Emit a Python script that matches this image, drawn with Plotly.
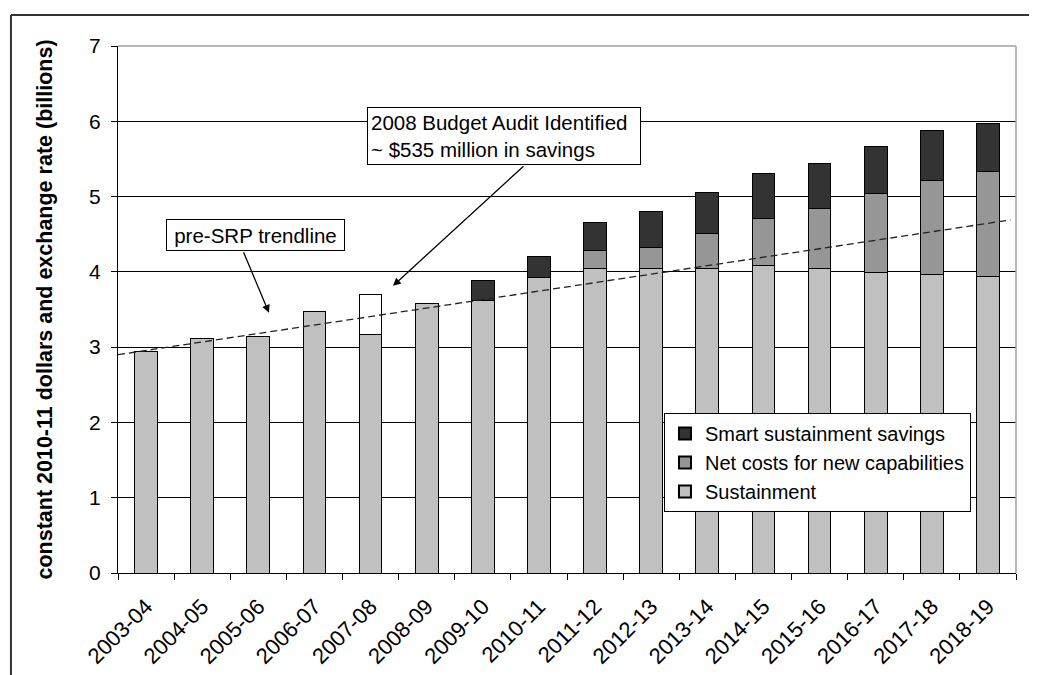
import plotly.graph_objects as go

# Data (billions, constant 2010-11 dollars)
years = ['2003-04', '2004-05', '2005-06', '2006-07', '2007-08', '2008-09', '2009-10', '2010-11',
         '2011-12', '2012-13', '2013-14', '2014-15', '2015-16', '2016-17', '2017-18', '2018-19']
sustainment = [2.94, 3.12, 3.14, 3.47, 3.17, 3.58, 3.62, 3.92,
               4.05, 4.05, 4.05, 4.08, 4.05, 3.99, 3.97, 3.94]
audit_savings = [None, None, None, None, 0.53, None, None, None,
                 None, None, None, None, None, None, None, None]
net_new = [None, None, None, None, None, None, None, None,
           0.23, 0.28, 0.46, 0.63, 0.79, 1.05, 1.25, 1.39]
smart_savings = [None, None, None, None, None, None, 0.27, 0.28,
                 0.38, 0.47, 0.55, 0.59, 0.60, 0.63, 0.66, 0.64]
# pre-SRP trendline (category position, value)
trend_x = [-0.5, 15.4]
trend_y = [2.90, 4.69]

FONT = 'Arial, Liberation Sans, sans-serif'
outline = dict(color='black', width=1)

fig = go.Figure()
fig.add_trace(go.Bar(x=years, y=sustainment, name='Sustainment',
                     marker=dict(color='#c0c0c0', line=outline)))
fig.add_trace(go.Bar(x=years, y=audit_savings, name='Budget audit savings', showlegend=False,
                     marker=dict(color='white', line=outline)))
fig.add_trace(go.Bar(x=years, y=net_new, name='Net costs for new capabilities',
                     marker=dict(color='#969696', line=outline)))
fig.add_trace(go.Bar(x=years, y=smart_savings, name='Smart sustainment savings',
                     marker=dict(color='#333333', line=outline)))

# trendline on a hidden numeric x axis lined up with the categories
fig.add_trace(go.Scatter(x=trend_x, y=trend_y, mode='lines', xaxis='x2', showlegend=False,
                         line=dict(color='#222222', width=1.3, dash='7px,4px')))

fig.update_layout(
    width=1037, height=675,
    margin=dict(l=110, r=29, t=38, b=110),
    paper_bgcolor='white', plot_bgcolor='white',
    font=dict(family=FONT, size=20, color='black'),
    barmode='stack', bargap=0.595,
    showlegend=True,
    legend=dict(x=0.608, y=0.3036, xanchor='left', yanchor='top', traceorder='reversed',
                bordercolor='black', borderwidth=1, bgcolor='white',
                font=dict(size=20), itemsizing='constant', tracegroupgap=0),
    xaxis=dict(type='category', tickangle=-45, ticks='outside', ticklen=6, tickcolor='black',
               tickson='boundaries', showline=True, linecolor='black', linewidth=1,
               showgrid=False, tickfont=dict(size=22), range=[-0.5, 15.5],
               ticklabelstandoff=11),
    xaxis2=dict(overlaying='x', range=[-0.5, 15.5], visible=False),
    yaxis=dict(range=[0, 7], tickvals=[0, 1, 2, 3, 4, 5, 6, 7], ticks='outside', ticklen=6,
               tickcolor='black', showline=True, linecolor='black', linewidth=1,
               showgrid=True, gridcolor='black', gridwidth=1, zeroline=False,
               tickfont=dict(size=21), ticklabelstandoff=6,
               title=dict(text='<b>constant 2010-11 dollars and exchange rate (billions)</b>',
                          font=dict(size=21.5), standoff=30)),
)

# grey plot-area border on top and right, outer chart frame
fig.add_shape(type='line', xref='paper', yref='paper', x0=0, x1=1, y0=1, y1=1,
              line=dict(color='#a0a0a0', width=1.5), layer='above')
fig.add_shape(type='line', xref='paper', yref='paper', x0=1, x1=1, y0=0, y1=1,
              line=dict(color='#a0a0a0', width=1.5), layer='above')
fig.add_shape(type='line', xref='paper', yref='paper', x0=-0.1192, x1=1.1, y0=1.0588, y1=1.0588,
              line=dict(color='#333333', width=2))
fig.add_shape(type='line', xref='paper', yref='paper', x0=-0.1192, x1=-0.1192, y0=1.0588, y1=-0.3,
              line=dict(color='#333333', width=2))

# arrows
fig.add_annotation(x=2.19, y=3.456, xref='x2', yref='y', ax=-26, ay=-62, text='',
                   showarrow=True, arrowhead=2, arrowsize=1.2, arrowwidth=1.3, arrowcolor='black')
fig.add_annotation(x=4.40, y=3.815, xref='x2', yref='y', ax=132, ay=-121, text='',
                   showarrow=True, arrowhead=2, arrowsize=1.2, arrowwidth=1.3, arrowcolor='black')

# text boxes
fig.add_annotation(x=0.1531, y=0.6414, xref='paper', yref='paper', xanchor='center', yanchor='middle',
                   text='pre-SRP trendline', showarrow=False, font=dict(size=20.5),
                   width=171, height=24,
                   bgcolor='white', bordercolor='black', borderwidth=1, borderpad=3)
fig.add_annotation(x=0.4298, y=0.829, xref='paper', yref='paper', xanchor='center', yanchor='middle',
                   text='2008 Budget Audit Identified<br>~ $535 million in savings', align='left',
                   showarrow=False, font=dict(size=20.5), width=266, height=50,
                   bgcolor='white', bordercolor='black', borderwidth=1, borderpad=3)

fig.write_html("out.html")
